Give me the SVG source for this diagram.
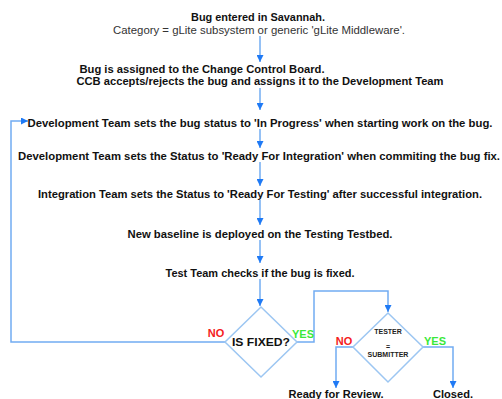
<svg xmlns="http://www.w3.org/2000/svg" width="502" height="399" viewBox="0 0 502 399">
<style>
.t{font-family:"Liberation Sans",Arial,sans-serif;font-size:11px;font-weight:bold;fill:#111;text-anchor:middle}
.n{font-family:"Liberation Sans",Arial,sans-serif;font-size:11px;fill:#333;text-anchor:middle}
.s{font-family:"Liberation Sans",Arial,sans-serif;font-size:7px;font-weight:bold;fill:#222;text-anchor:middle}
.no{font-family:"Liberation Sans",Arial,sans-serif;font-size:11px;font-weight:bold;fill:#f42020;text-anchor:middle}
.yes{font-family:"Liberation Sans",Arial,sans-serif;font-size:11px;font-weight:bold;fill:#3ae83a;text-anchor:middle}
.ln{fill:none;stroke:#72acf2;stroke-width:1.5}
.dm{fill:#fff;stroke:#9cc6f2;stroke-width:1.5}
</style>
<defs>
<marker id="ah" viewBox="0 0 10 10" refX="10" refY="5" markerWidth="7" markerHeight="7" markerUnits="userSpaceOnUse" orient="auto">
<path d="M0,0 L10,5 L0,10 z" fill="#1f7af5"/>
</marker>
</defs>
<rect width="502" height="399" fill="#fff"/>
<g id="connectors">
<path class="ln" d="M260,36 V62" marker-end="url(#ah)"/>
<path class="ln" d="M260,88 V110" marker-end="url(#ah)"/>
<path class="ln" d="M260,129 V148" marker-end="url(#ah)"/>
<path class="ln" d="M260,162 V186" marker-end="url(#ah)"/>
<path class="ln" d="M260,200 V225" marker-end="url(#ah)"/>
<path class="ln" d="M260,240 V263" marker-end="url(#ah)"/>
<path class="ln" d="M260,279 V306" marker-end="url(#ah)"/>
<path class="ln" d="M225,342 H11 V121 H28" marker-end="url(#ah)"/>
<path class="ln" d="M297,342 H314 V291 H388 V312" marker-end="url(#ah)"/>
<path class="ln" d="M353,347 H336 V388" marker-end="url(#ah)"/>
<path class="ln" d="M423,347 H453 V388" marker-end="url(#ah)"/>
</g>
<g id="n1">
<text class="t" x="258" y="21" textLength="134" lengthAdjust="spacingAndGlyphs">Bug entered in Savannah.</text>
<text class="n" x="259" y="34" textLength="292" lengthAdjust="spacingAndGlyphs">Category = gLite subsystem or generic 'gLite Middleware'.</text>
</g>
<g id="n2">
<text class="t" x="202" y="73" textLength="245" lengthAdjust="spacingAndGlyphs">Bug is assigned to the Change Control Board.</text>
<text class="t" x="260" y="85" textLength="367" lengthAdjust="spacingAndGlyphs">CCB accepts/rejects the bug and assigns it to the Development Team</text>
</g>
<g id="n3">
<text class="t" x="260" y="127" textLength="465" lengthAdjust="spacingAndGlyphs">Development Team sets the bug status to 'In Progress' when starting work on the bug.</text>
</g>
<g id="n4">
<text class="t" x="259" y="160" textLength="482" lengthAdjust="spacingAndGlyphs">Development Team sets the Status to 'Ready For Integration' when commiting the bug fix.</text>
</g>
<g id="n5">
<text class="t" x="260" y="198" textLength="444" lengthAdjust="spacingAndGlyphs">Integration Team sets the Status to 'Ready For Testing' after successful integration.</text>
</g>
<g id="n6">
<text class="t" x="260" y="238" textLength="265" lengthAdjust="spacingAndGlyphs">New baseline is deployed on the Testing Testbed.</text>
</g>
<g id="n7">
<text class="t" x="260" y="277" textLength="189" lengthAdjust="spacingAndGlyphs">Test Team checks if the bug is fixed.</text>
</g>
<g id="d1">
<polygon class="dm" points="261,307 297,342 261,377 225,342"/>
<text class="t" x="261" y="346" textLength="58" lengthAdjust="spacingAndGlyphs">IS FIXED?</text>
</g>
<g id="d2">
<polygon class="dm" points="388,313 423,347 388,382 353,347"/>
<text class="s" x="388" y="334">TESTER</text>
<text class="s" x="388" y="349">=</text>
<text class="s" x="388" y="357">SUBMITTER</text>
</g>
<g id="labels">
<text class="no" x="216" y="337">NO</text>
<text class="yes" x="303" y="338">YES</text>
<text class="no" x="344" y="345">NO</text>
<text class="yes" x="435" y="345">YES</text>
</g>
<g id="n8">
<text class="t" x="336" y="398" textLength="95" lengthAdjust="spacingAndGlyphs">Ready for Review.</text>
</g>
<g id="n9">
<text class="t" x="453" y="398" textLength="40" lengthAdjust="spacingAndGlyphs">Closed.</text>
</g>
</svg>
